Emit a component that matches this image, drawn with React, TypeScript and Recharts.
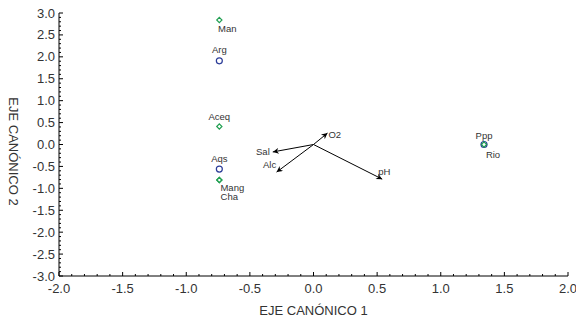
import React from 'react';
import { ScatterChart, Scatter, XAxis, YAxis } from 'recharts';

// tick labels
const xTickLabels = [-2, -1.5, -1, -0.5, 0, 0.5, 1, 1.5, 2];
const yTickLabels = [-3, -2.5, -2, -1.5, -1, -0.5, 0, 0.5, 1, 1.5, 2, 2.5, 3];

// sites drawn as open circles
const circleSites = ['Arg', 'Aqs', 'Ppp'];
const circleX = [-0.74, -0.74, 1.34];
const circleY = [1.91, -0.56, 0.0];

// sites drawn as open diamonds
const diamondSites = ['Man', 'Aceq', 'Mang', 'Cha', 'Rio'];
const diamondX = [-0.74, -0.74, -0.74, -0.74, 1.34];
const diamondY = [2.84, 0.41, -0.81, -0.81, 0.0];

// environmental vectors (from the origin)
const envVars = ['O2', 'Sal', 'Alc', 'pH'];
const envX = [0.11, -0.32, -0.29, 0.54];
const envY = [0.26, -0.17, -0.63, -0.79];

// label placement relative to the mark: dx, dy, anchor
const labelPos: Record<string, [number, number, string]> = {
  Man: [8, 8, 'middle'],
  Arg: [0, -11, 'middle'],
  Aceq: [0, -10, 'middle'],
  Aqs: [0, -10.5, 'middle'],
  Mang: [13, 7.5, 'middle'],
  Cha: [10, 16.5, 'middle'],
  Ppp: [0, -9.5, 'middle'],
  Rio: [9, 10, 'middle'],
  O2: [1, 1, 'start'],
  Sal: [-3, 0, 'end'],
  Alc: [-7, -7.5, 'middle'],
  pH: [2, -8, 'middle'],
};

const FONT = '"Liberation Sans", Arial, sans-serif';
const GREEN = '#22a052';
const BLUE = '#2b3c98';
const TEXT = '#333';

const circleData = circleSites.map((name, i) => ({ name, x: circleX[i], y: circleY[i] }));
const diamondData = diamondSites.map((name, i) => ({ name, x: diamondX[i], y: diamondY[i] }));
const arrowData = envVars.map((name, i) => [
  { x: 0, y: 0 },
  { name, x: envX[i], y: envY[i] },
]);

const steps = (lo: number, hi: number) => {
  const out: number[] = [];
  for (let k = Math.round(lo * 10); k <= Math.round(hi * 10); k++) out.push(k / 10);
  return out;
};
const xTicks = steps(xTickLabels[0], xTickLabels[xTickLabels.length - 1]);
const yTicks = steps(yTickLabels[0], yTickLabels[yTickLabels.length - 1]);
const isMajor = (v: number) => Math.abs(v * 2 - Math.round(v * 2)) < 1e-6;

const PointLabel = ({ cx, cy, name }: any) => {
  const p = labelPos[name];
  if (!p) return null;
  return (
    <text
      x={cx + p[0]}
      y={cy + p[1]}
      textAnchor={p[2] as any}
      dominantBaseline="central"
      fontSize={9.5}
      fontFamily={FONT}
      fill={TEXT}
    >
      {name}
    </text>
  );
};

const CircleShape = (props: any) => (
  <g>
    <circle cx={props.cx} cy={props.cy} r={3} fill="none" stroke={BLUE} strokeWidth={1.2} />
    <PointLabel cx={props.cx} cy={props.cy} name={props.payload.name} />
  </g>
);

const DiamondShape = (props: any) => {
  const { cx, cy } = props;
  const s = 2.6;
  return (
    <g>
      <path
        d={`M${cx},${cy - s}L${cx + s},${cy}L${cx},${cy + s}L${cx - s},${cy}Z`}
        fill="none"
        stroke={GREEN}
        strokeWidth={1.2}
      />
      <PointLabel cx={cx} cy={cy} name={props.payload.name} />
    </g>
  );
};

const ArrowTip = (props: any) => {
  if (!props.payload.name) return <g />;
  return <PointLabel cx={props.cx} cy={props.cy} name={props.payload.name} />;
};

const BottomTick = ({ x, y, payload }: any) => {
  const v = payload.value;
  const major = isMajor(v);
  return (
    <g>
      <line x1={x} x2={x} y1={y} y2={y - (major ? 4 : 2)} stroke="#000" />
      {major && (
        <text x={x} y={y + 12} textAnchor="middle" dominantBaseline="central" fontSize={13} fontFamily={FONT} fill={TEXT}>
          {v.toFixed(1)}
        </text>
      )}
    </g>
  );
};

const TopTick = ({ x, y, payload }: any) => (
  <line x1={x} x2={x} y1={y} y2={y + (isMajor(payload.value) ? 4 : 2)} stroke="#000" />
);

const LeftTick = ({ x, y, payload }: any) => {
  const v = payload.value;
  const major = isMajor(v);
  return (
    <g>
      <line x1={x} x2={x + (major ? 4 : 2)} y1={y} y2={y} stroke="#000" />
      {major && (
        <text x={x - 4} y={y} textAnchor="end" dominantBaseline="central" fontSize={13} fontFamily={FONT} fill={TEXT}>
          {v.toFixed(1)}
        </text>
      )}
    </g>
  );
};

const RightTick = ({ x, y, payload }: any) => (
  <line x1={x} x2={x - (isMajor(payload.value) ? 4 : 2)} y1={y} y2={y} stroke="#000" />
);

const XTitle = ({ viewBox }: any) => (
  <text
    x={viewBox.x + viewBox.width / 2}
    y={viewBox.y + 34}
    textAnchor="middle"
    dominantBaseline="central"
    fontSize={13}
    fontFamily={FONT}
    fill={TEXT}
  >
    EJE CANÓNICO 1
  </text>
);

const YTitle = ({ viewBox }: any) => {
  const x = 13;
  const y = viewBox.y + viewBox.height / 2 + 7;
  return (
    <text
      x={x}
      y={y}
      transform={`rotate(90 ${x} ${y})`}
      textAnchor="middle"
      dominantBaseline="central"
      fontSize={13}
      fontFamily={FONT}
      fill={TEXT}
    >
      EJE CANÓNICO 2
    </text>
  );
};

export default function App() {
  return (
    <div style={{ position: 'absolute', left: 0, top: 0, width: 576, height: 320, background: '#fff' }}>
      <ScatterChart width={576} height={320} margin={{ top: 13, right: 8, bottom: 4, left: 0 }}>
        <defs>
          <marker
            id="arrowHead"
            viewBox="0 0 10 10"
            refX={10}
            refY={5}
            markerWidth={8}
            markerHeight={6}
            markerUnits="userSpaceOnUse"
            orient="auto"
          >
            <path d="M0,0L10,5L0,10L3,5Z" fill="#000" />
          </marker>
        </defs>
        <XAxis
          xAxisId="b"
          type="number"
          dataKey="x"
          domain={[-2, 2]}
          ticks={xTicks}
          interval={0}
          tickSize={0}
          tickMargin={0}
          tickLine={false}
          tick={BottomTick}
          axisLine={{ stroke: '#000' }}
          height={40}
          allowDataOverflow
          label={<XTitle />}
        />
        <XAxis
          xAxisId="t"
          orientation="top"
          type="number"
          dataKey="x"
          domain={[-2, 2]}
          ticks={xTicks}
          interval={0}
          tickSize={0}
          tickMargin={0}
          tickLine={false}
          tick={TopTick}
          axisLine={{ stroke: '#000' }}
          height={0}
          allowDataOverflow
        />
        <YAxis
          yAxisId="l"
          type="number"
          dataKey="y"
          domain={[-3, 3]}
          ticks={yTicks}
          interval={0}
          tickSize={0}
          tickMargin={0}
          tickLine={false}
          tick={LeftTick}
          axisLine={{ stroke: '#000' }}
          width={59}
          allowDataOverflow
          label={<YTitle />}
        />
        <YAxis
          yAxisId="r"
          orientation="right"
          type="number"
          dataKey="y"
          domain={[-3, 3]}
          ticks={yTicks}
          interval={0}
          tickSize={0}
          tickMargin={0}
          tickLine={false}
          tick={RightTick}
          axisLine={{ stroke: '#000' }}
          width={0}
          allowDataOverflow
        />
        <Scatter xAxisId="t" yAxisId="r" data={[]} isAnimationActive={false} />
        {arrowData.map((d, i) => (
          <Scatter
            key={envVars[i]}
            xAxisId="b"
            yAxisId="l"
            data={d}
            line={{ stroke: '#000', strokeWidth: 1, markerEnd: 'url(#arrowHead)' }}
            shape={ArrowTip}
            isAnimationActive={false}
          />
        ))}
        <Scatter xAxisId="b" yAxisId="l" data={circleData} shape={CircleShape} isAnimationActive={false} />
        <Scatter xAxisId="b" yAxisId="l" data={diamondData} shape={DiamondShape} isAnimationActive={false} />
      </ScatterChart>
    </div>
  );
}
